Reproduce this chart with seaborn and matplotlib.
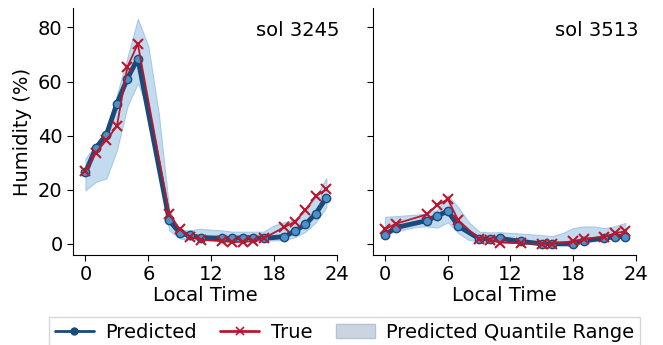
import numpy as np
import pandas as pd
import matplotlib
matplotlib.use("Agg")
import matplotlib.pyplot as plt
import seaborn as sns
from matplotlib.lines import Line2D
from matplotlib.patches import Patch

# ---- data ----
sols = ["sol 3245", "sol 3513"]

hours_a = [0, 1, 2, 3, 4, 5, 8, 9, 10, 11, 13, 14, 15, 16, 17, 19, 20, 21, 22, 23]
pred_a = [26.4, 35.5, 40.4, 51.8, 61.1, 68.5, 8.7, 4.0, 3.1, 2.3, 2.1, 2.0, 2.3, 2.3, 2.0, 2.7, 4.7, 7.2, 11.2, 17.1]
true_a = [26.9, 33.7, 38.4, 43.5, 65.4, 73.9, 10.9, 5.4, 2.5, 1.5, 1.0, 0.7, 0.7, 1.0, 2.0, 6.2, 8.2, 12.5, 17.7, 20.1]

hours_b = [0, 1, 4, 5, 6, 7, 9, 10, 11, 13, 15, 16, 18, 19, 21, 22, 23]
pred_b = [3.3, 6.0, 8.6, 10.4, 12.1, 6.6, 1.9, 1.8, 2.0, 0.9, 0.0, 0.0, 0.0, 1.2, 2.1, 2.7, 2.7]
true_b = [5.4, 7.4, 10.9, 14.3, 16.5, 8.7, 1.8, 1.5, 0.5, 0.2, 0.0, 0.0, 1.0, 1.8, 2.7, 3.9, 4.7]

band_hours = list(range(24))
low_a = [19.8, 23.0, 24.2, 34.7, 50.8, 59.5, 49.6, 27.3, 5.0, 2.0, 1.5, 1.5, 1.5, 1.5, 1.2, 1.2, 1.2, 1.2, 1.3, 1.5, 2.5, 4.5, 8.0, 13.6]
up_a = [31.6, 36.6, 42.2, 55.0, 68.8, 83.1, 73.0, 48.0, 12.5, 5.0, 5.0, 5.6, 5.2, 5.0, 4.5, 4.5, 4.5, 4.5, 6.8, 8.0, 9.0, 12.0, 17.3, 24.3]
low_b = [3.5, 4.5, 5.5, 6.3, 6.5, 6.0, 8.0, 4.0, 1.5, 0.8, 0.8, 0.8, 0.5, 0.3, 0.0, 0.0, 0.0, 0.0, 0.0, 0.5, 1.0, 1.5, 2.0, 2.0]
up_b = [10.0, 10.2, 10.5, 10.8, 11.3, 12.5, 18.0, 13.5, 8.0, 4.5, 4.2, 4.3, 4.0, 3.8, 3.5, 3.2, 2.8, 4.0, 5.8, 6.4, 6.4, 5.8, 6.5, 7.7]

xticks = [0, 6, 12, 18, 24]
yticks = [0, 20, 40, 60, 80]

# ---- style ----
sns.set_style("ticks")
plt.rcParams["font.family"] = ["DejaVu Sans"]
plt.rcParams["text.color"] = "black"
plt.rcParams["axes.labelcolor"] = "black"
plt.rcParams["xtick.color"] = "black"
plt.rcParams["ytick.color"] = "black"
plt.rcParams["axes.edgecolor"] = "black"
FS = 14

NAVY = "#1a4a7a"
MFACE = "#4b92c9"
RED = "#b8182e"
BAND = "#c3dbef"
BAND_EDGE = "#a6c9e6"

fig = plt.figure(figsize=(6.63, 3.45), dpi=100)
ax1 = fig.add_axes([0.110, 0.261, 0.398, 0.716])
ax2 = fig.add_axes([0.562, 0.261, 0.397, 0.716], sharey=ax1)

panels = [
    (ax1, hours_a, pred_a, true_a, low_a, up_a, sols[0]),
    (ax2, hours_b, pred_b, true_b, low_b, up_b, sols[1]),
]

for ax, h, p, t, lo, up, title in panels:
    ax.fill_between(band_hours, lo, up, color=BAND, edgecolor=BAND_EDGE, linewidth=0.8, zorder=1)
    dfp = pd.DataFrame({"h": h, "v": p})
    dft = pd.DataFrame({"h": h, "v": t})
    sns.lineplot(data=dfp, x="h", y="v", ax=ax, color=NAVY, linewidth=3.5,
                 marker="o", markersize=6, markerfacecolor=MFACE, markeredgecolor=NAVY,
                 markeredgewidth=1.0, zorder=3)
    sns.lineplot(data=dft, x="h", y="v", ax=ax, color=RED, linewidth=1.3,
                 marker="x", markersize=7, markeredgecolor=RED, markeredgewidth=1.5, zorder=4)
    ax.set_xlim(-1.2, 24)
    ax.set_ylim(-4.1, 87.2)
    ax.set_xticks(xticks)
    ax.set_yticks(yticks)
    ax.tick_params(labelsize=FS, length=4, width=0.8)
    ax.set_xlabel("Local Time", fontsize=FS, labelpad=1)
    ax.set_ylabel("")
    ax.text(1.01, 0.91, title, transform=ax.transAxes, ha="right", va="center", fontsize=FS)
    sns.despine(ax=ax)

ax1.set_ylabel("Humidity (%)", fontsize=FS, labelpad=4)
plt.setp(ax2.get_yticklabels(), visible=False)

handles = [
    Line2D([0], [0], color=NAVY, linewidth=2, marker="o", markersize=5,
           markerfacecolor=NAVY, markeredgecolor=NAVY),
    Line2D([0], [0], color=RED, linewidth=2, marker="x", markersize=6, markeredgewidth=1.2),
    Patch(facecolor="#cbd5e1", edgecolor="#b5c3d6"),
]
fig.legend(handles, ["Predicted", "True", "Predicted Quantile Range"],
           loc="upper center", bbox_to_anchor=(0.52, 0.11), ncol=3, fontsize=FS,
           frameon=True, fancybox=False, edgecolor="#cccccc", borderpad=0.3,
           handlelength=2.0, columnspacing=1.2, handletextpad=0.6)

fig.savefig("out.png", dpi=100)
